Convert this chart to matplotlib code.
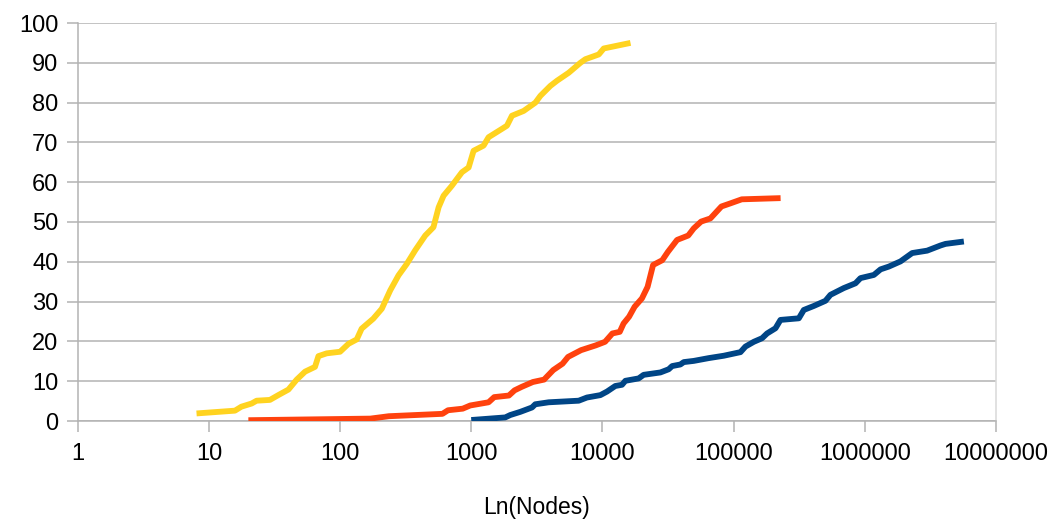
import matplotlib
matplotlib.use("Agg")
import matplotlib.pyplot as plt
from matplotlib.ticker import FixedLocator, FixedFormatter, NullLocator

plt.rcParams['font.family'] = ['Liberation Sans', 'DejaVu Sans']

# ---- data (x = nodes, y = value) ----
yellow_x = [8.05, 15.8, 17.7, 21.2, 23.1, 29.2, 33.8, 40.4, 46.7, 54.1, 64.4, 68.4, 79.1,
            100, 116, 134, 146, 179, 208, 241, 279, 323, 374, 446, 515, 564, 615, 711,
            849, 955, 1042, 1242, 1355, 1714, 1871, 2042, 2506, 3083, 3365, 4009, 4508,
            5534, 6792, 7413, 9376, 10233, 16368]
yellow_y = [1.9, 2.6, 3.6, 4.4, 5.1, 5.3, 6.5, 7.9, 10.4, 12.4, 13.6, 16.3, 17.0,
            17.4, 19.4, 20.5, 23.2, 25.7, 28.2, 32.8, 36.6, 39.5, 42.9, 46.6, 48.7, 53.7, 56.6, 59.1,
            62.5, 63.7, 67.9, 69.2, 71.3, 73.4, 74.2, 76.7, 77.9, 80.0, 81.7, 84.2, 85.5,
            87.5, 90.0, 90.9, 92.1, 93.6, 95.0]

red_x = [20, 170, 235, 603, 665, 861, 982, 1355, 1496, 1936, 2138, 2432, 2951, 3589,
         4217, 4966, 5470, 6871, 8892, 10471, 11912, 13552, 14488, 15959, 17579, 19999,
         22080, 24322, 28576, 31550, 37068, 45082, 49659, 56494, 66527, 80724, 94842,
         115345, 228034]
red_y = [0.2, 0.6, 1.2, 1.8, 2.7, 3.1, 3.9, 4.7, 6.0, 6.4, 7.7, 8.6, 9.8, 10.4,
         12.8, 14.4, 16.1, 17.8, 19.0, 19.9, 22.0, 22.4, 24.5, 26.2, 28.7, 30.8,
         33.7, 39.2, 40.4, 42.5, 45.5, 46.6, 48.4, 50.1, 50.9, 53.9, 54.7,
         55.7, 56.0]

blue_x = [1000, 1816, 1982, 2366, 2904, 3076, 3890, 6592, 7621, 9638, 10839, 12531,
          14093, 14962, 18880, 20606, 27669, 31989, 33963, 39264, 41687, 49659, 64565,
          84140, 112720, 123027, 142561, 164816, 179887, 208449, 227510, 314051, 342768,
          408319, 501187, 547016, 691831, 849180, 926830, 1172195, 1318257, 1524053,
          1870682, 2296149, 2985383, 3775722, 4120975, 5688529]
blue_y = [0.25, 0.9, 1.5, 2.3, 3.4, 4.2, 4.7, 5.1, 5.9, 6.5, 7.4, 8.8,
          9.1, 10.1, 10.7, 11.6, 12.2, 13.0, 13.8, 14.2, 14.8, 15.1, 15.8,
          16.4, 17.3, 18.7, 19.9, 20.8, 22.0, 23.3, 25.4, 25.8, 27.9,
          28.9, 30.2, 31.7, 33.4, 34.6, 35.9, 36.7, 38.1, 38.8,
          40.1, 42.2, 42.8, 44.1, 44.5, 45.1]

x_ticks = [1, 10, 100, 1000, 10000, 100000, 1000000, 10000000]
x_tick_labels = ["1", "10", "100", "1000", "10000", "100000", "1000000", "10000000"]
y_ticks = [0, 10, 20, 30, 40, 50, 60, 70, 80, 90, 100]
x_label = "Ln(Nodes)"

# ---- figure ----
W, H = 1061, 519
fig = plt.figure(figsize=(W / 100, H / 100), dpi=100)
ax = fig.add_axes([77.7 / W, 1 - 421 / H, (996 - 77.7) / W, (421 - 23) / H])

grid_c = '#b3b3b3'
lw = 4.2
ax.plot(yellow_x, yellow_y, color='#FFD320', lw=lw, solid_capstyle='butt', solid_joinstyle='round', zorder=3)
ax.plot(red_x, red_y, color='#FF420E', lw=lw, solid_capstyle='butt', solid_joinstyle='round', zorder=3)
ax.plot(blue_x, blue_y, color='#004586', lw=lw, solid_capstyle='butt', solid_joinstyle='round', zorder=3)

ax.set_xscale('log')
ax.set_xlim(1, 1e7)
ax.set_ylim(0, 100)
ax.xaxis.set_major_locator(FixedLocator(x_ticks))
ax.xaxis.set_major_formatter(FixedFormatter(x_tick_labels))
ax.xaxis.set_minor_locator(NullLocator())
ax.set_yticks(y_ticks)
ax.set_yticklabels([str(v) for v in y_ticks])

ax.grid(axis='y', color=grid_c, lw=1.1, zorder=0)
ax.set_axisbelow(True)
ax.spines['top'].set_visible(False)
ax.spines['left'].set_color(grid_c)
ax.spines['bottom'].set_color(grid_c)
ax.spines['right'].set_color('#d9d9d9')
for s in ['left', 'bottom', 'right']:
    ax.spines[s].set_linewidth(1.1)

ax.tick_params(axis='both', which='major', colors=grid_c, length=8, width=1.1,
               labelsize=17, labelcolor='black')
ax.tick_params(axis='y', pad=6)
ax.tick_params(axis='x', pad=8)
ax.set_xlabel(x_label, fontsize=16.5, labelpad=22)

fig.savefig('out.png', dpi=100, facecolor='white')
